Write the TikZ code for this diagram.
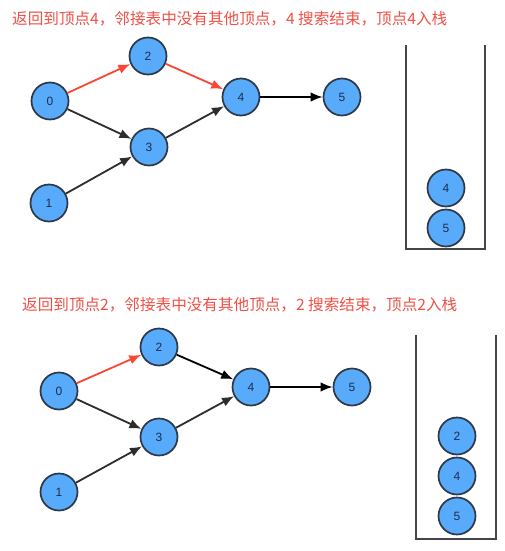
\documentclass[tikz,border=0pt]{standalone}
\usepackage{fontspec}
\setmainfont{Liberation Sans}
\newfontfamily\cjk{Noto Sans CJK SC}
\usetikzlibrary{arrows.meta}
\definecolor{nodefill}{RGB}{88,170,250}
\definecolor{nodeborder}{RGB}{45,55,70}
\definecolor{labelcol}{RGB}{30,45,80}
\definecolor{redline}{RGB}{250,70,50}
\definecolor{darkline}{RGB}{45,45,45}
\definecolor{titlered}{RGB}{240,80,70}
\definecolor{stackline}{RGB}{70,70,70}
\tikzset{
  vert/.style={circle, draw=nodeborder, fill=nodefill, line width=1.7pt, minimum size=37pt, inner sep=0pt, text=labelcol, font=\fontsize{12}{14}\selectfont},
  edge/.style={-{Latex[length=12pt,width=9.5pt]}, line width=1.8pt, draw=darkline},
  redge/.style={edge, draw=redline},
  title/.style={anchor=west, text=titlered, font=\cjk\fontsize{15.6}{18}\selectfont, inner sep=0pt},
  stackwall/.style={draw=stackline, line width=1.8pt}
}
\begin{document}
\begin{tikzpicture}[x=1pt,y=-1pt]
\useasboundingbox[fill=white] (0,0) rectangle (504,551);
% top panel
\node[title] (t1) at (12,19) {返回到顶点4，邻接表中没有其他顶点，4 搜索结束，顶点4入栈};
\node[vert] (a0) at (50,101) {0};
\node[vert] (a2) at (148,56) {2};
\node[vert] (a4) at (241,97) {4};
\node[vert] (a5) at (342,97) {5};
\node[vert] (a3) at (149,147) {3};
\node[vert] (a1) at (49,203) {1};
\draw[redge] (a0) -- (a2);
\draw[redge] (a2) -- (a4);
\draw[edge] (a0) -- (a3);
\draw[edge] (a1) -- (a3);
\draw[edge] (a3) -- (a4);
\draw[edge, draw=black] (a4) -- (a5);
\coordinate (s1a) at (406,45);
\coordinate (s1b) at (406,249);
\coordinate (s1c) at (485,249);
\coordinate (s1d) at (485,45);
\draw[stackwall] (s1a) -- (s1b) -- (s1c) -- (s1d);
\node[vert] (sa4) at (446,188) {4};
\node[vert] (sa5) at (446,228) {5};
% bottom panel
\node[title] (t2) at (22,305) {返回到顶点2，邻接表中没有其他顶点，2 搜索结束，顶点2入栈};
\node[vert] (b0) at (59,391) {0};
\node[vert] (b2) at (159,347) {2};
\node[vert] (b4) at (251,387) {4};
\node[vert] (b5) at (352,387) {5};
\node[vert] (b3) at (159,437) {3};
\node[vert] (b1) at (59,492) {1};
\draw[redge] (b0) -- (b2);
\draw[edge, draw=black] (b2) -- (b4);
\draw[edge] (b0) -- (b3);
\draw[edge] (b1) -- (b3);
\draw[edge] (b3) -- (b4);
\draw[edge, draw=black] (b4) -- (b5);
\coordinate (s2a) at (416,335);
\coordinate (s2b) at (416,539);
\coordinate (s2c) at (496,539);
\coordinate (s2d) at (496,335);
\draw[stackwall] (s2a) -- (s2b) -- (s2c) -- (s2d);
\node[vert] (sb2) at (457,436) {2};
\node[vert] (sb4) at (457,476) {4};
\node[vert] (sb5) at (457,516) {5};
\end{tikzpicture}
\end{document}
